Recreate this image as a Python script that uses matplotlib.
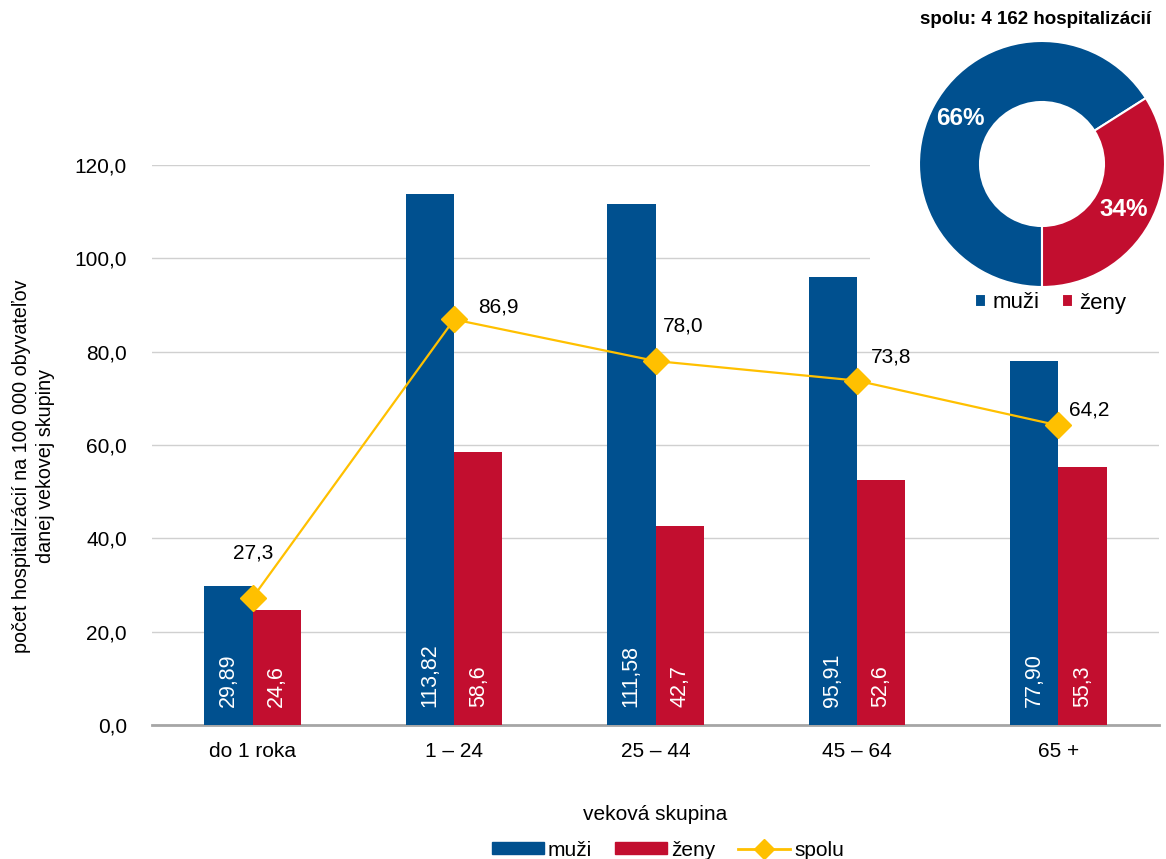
import matplotlib
matplotlib.use("Agg")
import matplotlib.pyplot as plt
import numpy as np
from matplotlib.patches import Patch
from matplotlib.lines import Line2D

plt.rcParams['font.family'] = ['Liberation Sans', 'DejaVu Sans']

# Dáta
skupiny = ['do 1 roka', '1 – 24', '25 – 44', '45 – 64', '65 +']
muzi = [29.89, 113.82, 111.58, 95.91, 77.90]
zeny = [24.6, 58.6, 42.7, 52.6, 55.3]
spolu = [27.3, 86.9, 78.0, 73.8, 64.2]
muzi_popisky = ['29,89', '113,82', '111,58', '95,91', '77,90']
zeny_popisky = ['24,6', '58,6', '42,7', '52,6', '55,3']
spolu_popisky = ['27,3', '86,9', '78,0', '73,8', '64,2']

podiel = [66, 34]
podiel_nazvy = ['muži', 'ženy']

MODRA = '#00508F'
CERVENA = '#C20E2F'
ZLTA = '#FFC000'

fig = plt.figure(figsize=(11.66, 8.59), dpi=100)
ax = fig.add_axes([152 / 1166, 1 - 725 / 859, 1007 / 1166, 560 / 859])

x = np.arange(len(skupiny))
w = 0.24
ax.bar(x - w / 2, muzi, w, color=MODRA, zorder=3)
ax.bar(x + w / 2, zeny, w, color=CERVENA, zorder=3)

for i in range(len(skupiny)):
    ax.text(x[i] - w / 2, 3.8, muzi_popisky[i], rotation=90, ha='center', va='bottom',
            color='white', fontsize=15.5, zorder=4)
    ax.text(x[i] + w / 2, 3.8, zeny_popisky[i], rotation=90, ha='center', va='bottom',
            color='white', fontsize=15.5, zorder=4)

ax.plot(x, spolu, color=ZLTA, lw=1.6, marker='D', markersize=13, zorder=5)

# posuny popiskov čiary (v bodoch)
posuny = [(0, 32), (32, 9), (20, 25), (25, 17), (22, 11)]
for i in range(len(skupiny)):
    ax.annotate(spolu_popisky[i], (x[i], spolu[i]), xytext=posuny[i],
                textcoords='offset points', ha='center', va='center', fontsize=15, zorder=6)

ax.set_xlim(-0.5, 4.5)
ax.set_ylim(0, 120)
ax.set_yticks(np.arange(0, 121, 20))
ax.set_yticklabels([f'{v:.1f}'.replace('.', ',') for v in np.arange(0, 121, 20)], fontsize=15)
ax.set_xticks(x)
ax.set_xticklabels(skupiny, fontsize=15)
ax.tick_params(length=0, pad=12)
ax.tick_params(axis='y', pad=18)
ax.grid(axis='y', color='#d0d0d0', lw=1, zorder=0)
for s in ['left', 'right', 'top']:
    ax.spines[s].set_visible(False)
ax.spines['bottom'].set_color('#a6a6a6')
ax.spines['bottom'].set_linewidth(2)

ax.set_xlabel('veková skupina', fontsize=15, labelpad=32)
ax.set_ylabel('počet hospitalizácií na 100 000 obyvateľov\ndanej vekovej skupiny', fontsize=14.2,
              linespacing=1.3)
ax.yaxis.set_label_coords(-97 / 1007, 0.4625)

handles = [Patch(color=MODRA, label='muži'), Patch(color=CERVENA, label='ženy'),
           Line2D([0], [0], color=ZLTA, lw=2, marker='D', markersize=10, label='spolu')]
fig.legend(handles=handles, loc='center', bbox_to_anchor=(668 / 1166, 1 - 850 / 859), ncol=3,
           frameon=False, fontsize=15, handlelength=2.5, handleheight=0.5, columnspacing=1.1,
           handletextpad=0.2)

# Koláčový graf
pax = fig.add_axes([870 / 1166, 1 - 320 / 859, 296 / 1166, 320 / 859], zorder=10)
pax.set_facecolor('white')
wedges, texts, autotexts = pax.pie(podiel, colors=[MODRA, CERVENA], startangle=-90, counterclock=False,
                                   center=(172, 156), radius=123, frame=True,
                                   wedgeprops=dict(width=61, edgecolor='white', linewidth=1.5),
                                   autopct='%d%%', pctdistance=0.76,
                                   textprops=dict(color='white', fontsize=17.5, fontweight='bold'))
pax.set_xlim(0, 296)
pax.set_ylim(0, 320)
pax.set_aspect('equal')
pax.set_xticks([])
pax.set_yticks([])
for s in pax.spines.values():
    s.set_visible(False)
pax.text(166, 301, 'spolu: 4 162 hospitalizácií', ha='center', va='center', fontsize=13.5, fontweight='bold')
pax.legend(wedges, podiel_nazvy, loc='center', bbox_to_anchor=(0.61, 17 / 320), ncol=2, frameon=False,
           fontsize=16, handlelength=0.5, handleheight=0.5, columnspacing=1.0, handletextpad=0.3)

fig.savefig('out.png', dpi=100, facecolor='white')
